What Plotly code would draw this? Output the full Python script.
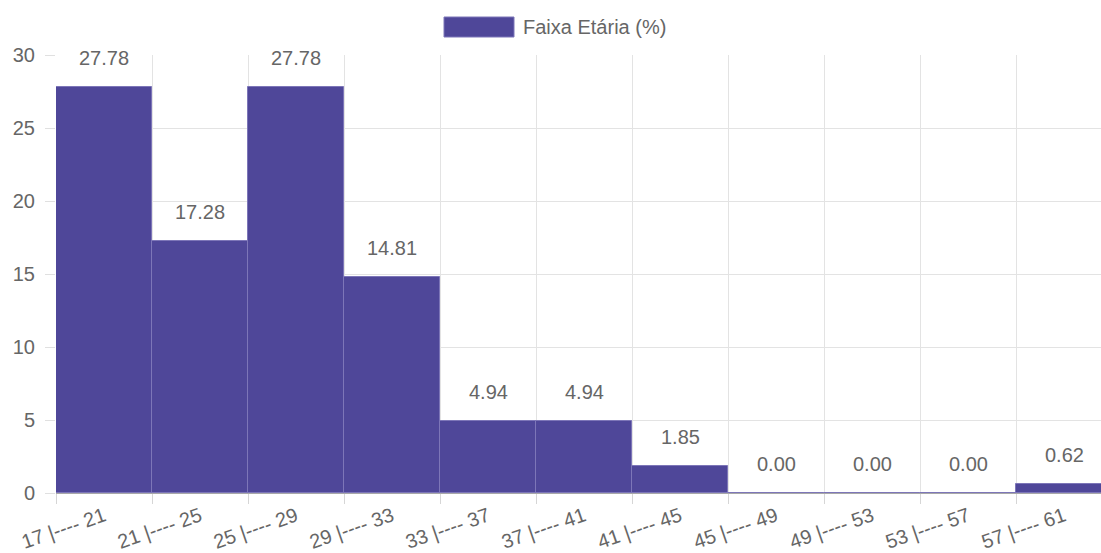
import plotly.graph_objects as go

# Age-group histogram (percent of respondents per 4-year band)
faixas = ["17 |---- 21", "21 |---- 25", "25 |---- 29", "29 |---- 33", "33 |---- 37",
          "37 |---- 41", "41 |---- 45", "45 |---- 49", "49 |---- 53", "53 |---- 57",
          "57 |---- 61"]
percentuais = [27.78, 17.28, 27.78, 14.81, 4.94, 4.94, 1.85, 0.00, 0.00, 0.00, 0.62]
y_ticks = [0, 5, 10, 15, 20, 25, 30]

BAR = "#4F4799"
EDGE = "#7D76B8"
TXT = "#666666"
FONT = "Liberation Sans, Arial, sans-serif"

pos = list(range(len(faixas)))

# Plot area in pixels; the last band runs past the right edge of the canvas
plot_l, plot_r, plot_t, plot_b = 56, 1101, 55, 493
band_px = 96
x_max = -0.5 + (plot_r - plot_l) / band_px

fig = go.Figure()
fig.add_trace(go.Bar(
    x=pos, y=percentuais, width=1,
    marker=dict(color=BAR, line=dict(color=EDGE, width=1)),
    name="Faixa Etária (%)", showlegend=False, hoverinfo="skip",
    cliponaxis=True,
))

# Value labels above each bar
for p, v in zip(pos, percentuais):
    fig.add_annotation(x=p, y=v, text=f"{v:.2f}", showarrow=False,
                       yanchor="bottom", yshift=16,
                       font=dict(family=FONT, size=20, color=TXT))

# Legend drawn as a wide swatch plus caption
pw, ph = plot_r - plot_l, plot_b - plot_t
def px(x):
    return (x - plot_l) / pw
def py(y):
    return (plot_b - y) / ph
fig.add_shape(type="rect", xref="paper", yref="paper",
              x0=px(444), x1=px(514), y0=py(37), y1=py(17),
              fillcolor=BAR, line=dict(color=EDGE, width=1))
fig.add_annotation(xref="paper", yref="paper", x=px(521), y=py(27),
                   text="Faixa Etária (%)", showarrow=False,
                   xanchor="left", yanchor="middle",
                   font=dict(family=FONT, size=20, color=TXT))

fig.update_layout(
    width=1101, height=553,
    margin=dict(l=plot_l, r=1101 - plot_r, t=plot_t, b=553 - plot_b),
    paper_bgcolor="white", plot_bgcolor="white",
    bargap=0, showlegend=False,
    font=dict(family=FONT, color=TXT),
    xaxis=dict(
        range=[-0.5, x_max],
        tickmode="array", tickvals=pos, ticktext=faixas,
        tickangle=-19, ticks="", showgrid=False, zeroline=False,
        tickfont=dict(family=FONT, size=20, color=TXT),
        ticklabelstandoff=7,
        minor=dict(tickmode="array",
                   tickvals=[p - 0.5 for p in pos] + [len(faixas) - 0.5],
                   showgrid=True, gridcolor="#e3e3e3", gridwidth=1,
                   ticks="outside", ticklen=10, tickcolor="#d6d6d6"),
        showline=False,
    ),
    yaxis=dict(
        range=[0, 30], tickmode="array", tickvals=y_ticks,
        showgrid=True, gridcolor="#e3e3e3", gridwidth=1,
        ticks="outside", ticklen=10, tickcolor="#e0e0e0",
        zeroline=True, zerolinecolor="#a8a8a8", zerolinewidth=1,
        tickfont=dict(family=FONT, size=20, color=TXT),
        ticklabelstandoff=6,
        showline=False,
    ),
)

fig.write_html("out.html")
